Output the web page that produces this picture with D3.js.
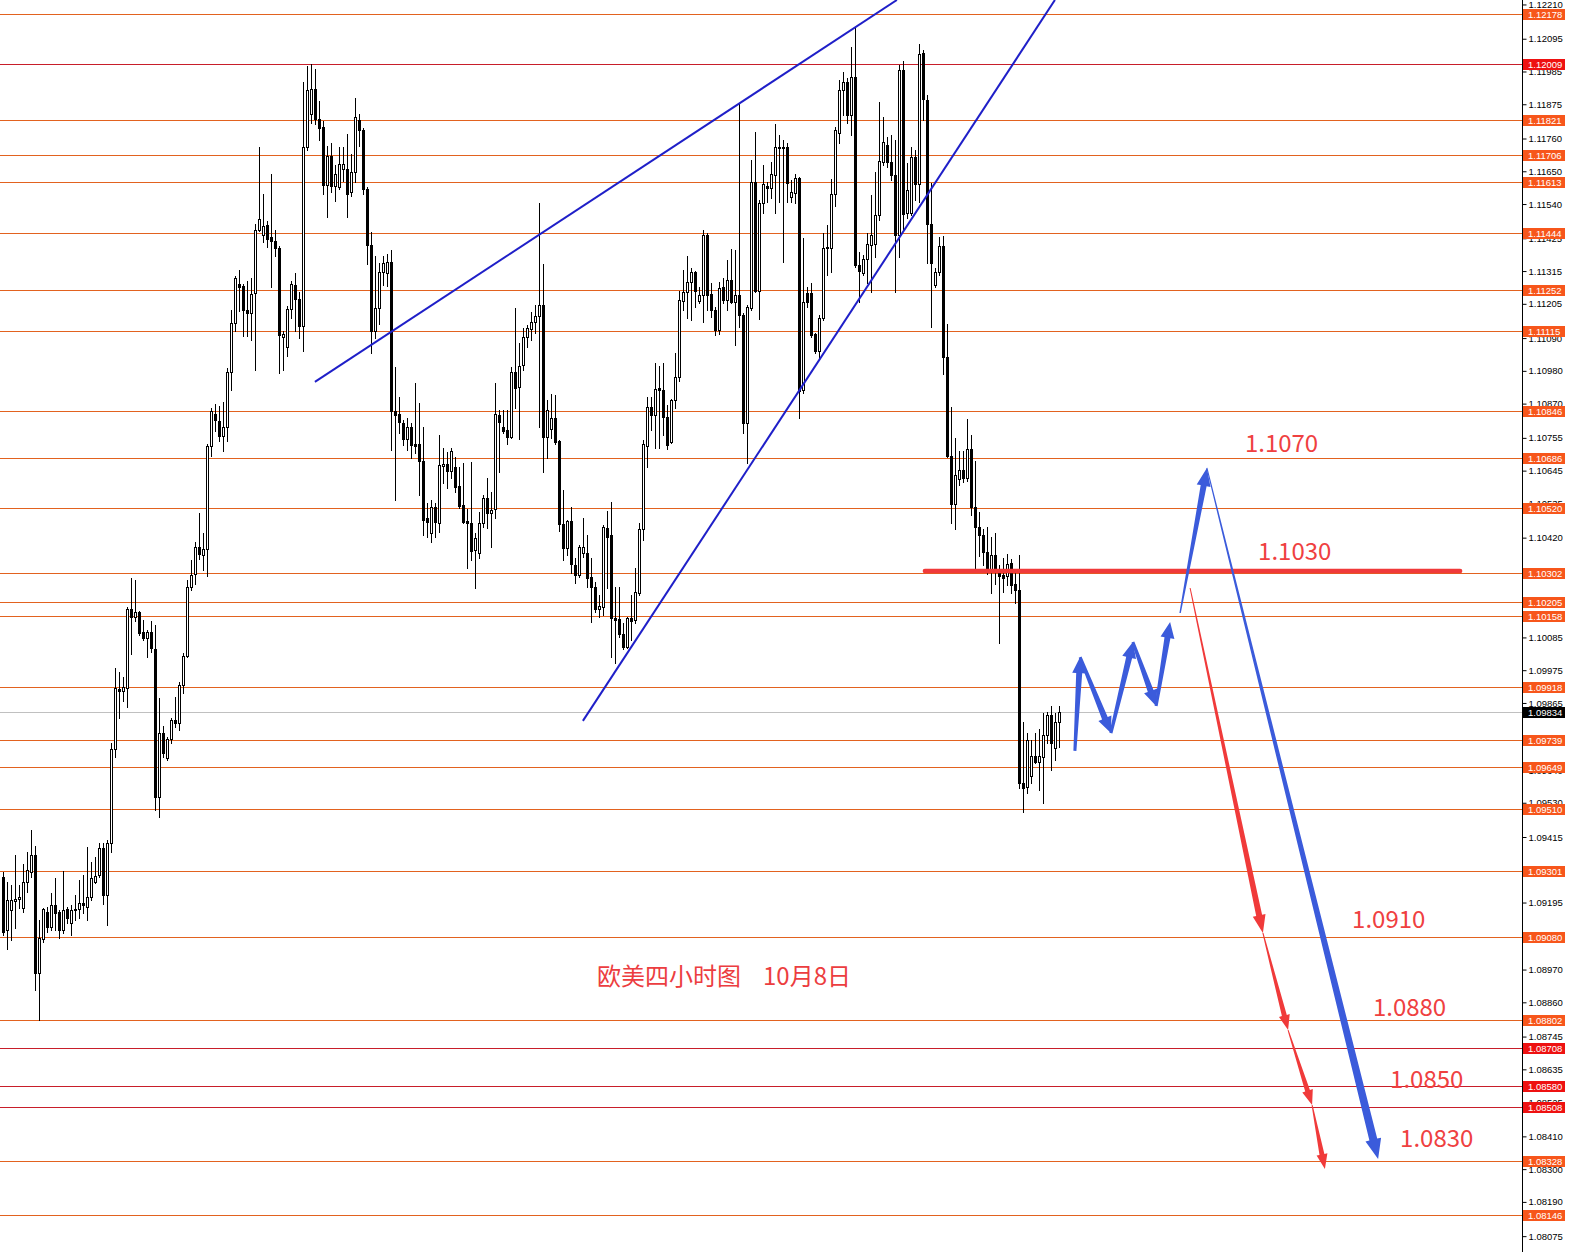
<!DOCTYPE html>
<html><head><meta charset="utf-8">
<script src="https://cdn.jsdelivr.net/npm/d3@7"></script>
<style>
html,body{margin:0;padding:0;background:#fff;}
svg{display:block;}
</style></head>
<body>
<svg id="chart" width="1570" height="1252"></svg>
<script>
// ---------- DATA ----------
// 4H EURUSD candles: [open, high, low, close]
const ohlc = [
[1.09280,1.09297,1.09086,1.09097],[1.09103,1.09264,1.09039,1.09203],[1.09170,1.09254,1.09070,1.09203],[1.09200,1.09354,1.09110,1.09207],
[1.09207,1.09254,1.09177,1.09213],[1.09177,1.09324,1.09164,1.09264],[1.09264,1.09364,1.09230,1.09304],[1.09297,1.09438,1.09280,1.09354],
[1.09354,1.09385,1.08902,1.08958],[1.08958,1.09136,1.08800,1.09076],[1.09072,1.09177,1.09062,1.09173],[1.09164,1.09180,1.09097,1.09112],
[1.09112,1.09227,1.09103,1.09187],[1.09187,1.09277,1.09103,1.09160],[1.09164,1.09170,1.09076,1.09103],[1.09103,1.09301,1.09093,1.09170],
[1.09173,1.09180,1.09127,1.09144],[1.09127,1.09187,1.09086,1.09170],[1.09170,1.09220,1.09136,1.09173],[1.09173,1.09270,1.09144,1.09193],
[1.09193,1.09287,1.09160,1.09187],[1.09180,1.09381,1.09136,1.09213],[1.09213,1.09331,1.09203,1.09277],[1.09264,1.09348,1.09260,1.09284],
[1.09287,1.09395,1.09280,1.09378],[1.09378,1.09395,1.09190,1.09220],[1.09220,1.09405,1.09119,1.09395],[1.09395,1.09731,1.09364,1.09710],
[1.09710,1.09983,1.09684,1.09916],[1.09912,1.09969,1.09815,1.09905],[1.09905,1.09952,1.09872,1.09919],[1.09916,1.10187,1.09851,1.10181],
[1.10181,1.10284,1.10030,1.10154],[1.10154,1.10277,1.10140,1.10171],[1.10171,1.10174,1.10093,1.10100],[1.10104,1.10144,1.10077,1.10083],
[1.10083,1.10110,1.10020,1.10104],[1.10104,1.10140,1.10036,1.10050],[1.10046,1.10127,1.09505,1.09549],[1.09549,1.09882,1.09482,1.09764],
[1.09764,1.09788,1.09684,1.09697],[1.09680,1.09751,1.09674,1.09744],[1.09744,1.09815,1.09731,1.09808],[1.09808,1.09885,1.09784,1.09798],
[1.09798,1.09936,1.09774,1.09926],[1.09926,1.10033,1.09899,1.10023],[1.10023,1.10277,1.10020,1.10254],[1.10254,1.10345,1.10244,1.10294],
[1.10298,1.10405,1.10264,1.10388],[1.10388,1.10502,1.10348,1.10365],[1.10361,1.10435,1.10311,1.10381],[1.10381,1.10734,1.10291,1.10728],
[1.10728,1.10855,1.10694,1.10845],[1.10835,1.10869,1.10778,1.10815],[1.10811,1.10862,1.10744,1.10761],[1.10761,1.10875,1.10711,1.10791],
[1.10791,1.10990,1.10744,1.10976],[1.10976,1.11184,1.10916,1.11141],[1.11141,1.11299,1.11114,1.11292],[1.11272,1.11319,1.11181,1.11262],
[1.11265,1.11272,1.11097,1.11184],[1.11184,1.11282,1.11097,1.11174],[1.11174,1.11292,1.11084,1.11238],[1.11242,1.11473,1.10983,1.11453],
[1.11453,1.11731,1.11450,1.11490],[1.11436,1.11573,1.11413,1.11467],[1.11470,1.11483,1.11396,1.11423],[1.11430,1.11641,1.11262,1.11416],
[1.11416,1.11453,1.11366,1.11393],[1.11393,1.11400,1.10973,1.11100],[1.11094,1.11114,1.10983,1.11104],[1.11060,1.11198,1.11030,1.11188],
[1.11188,1.11282,1.11158,1.11272],[1.11269,1.11309,1.11114,1.11222],[1.11222,1.11245,1.11090,1.11131],[1.11131,1.11950,1.11047,1.11731],
[1.11731,1.12003,1.11721,1.11923],[1.11842,1.12010,1.11812,1.11926],[1.11926,1.11993,1.11808,1.11825],[1.11825,1.11886,1.11755,1.11795],
[1.11798,1.11818,1.11573,1.11604],[1.11604,1.11735,1.11497,1.11701],[1.11701,1.11745,1.11580,1.11600],[1.11600,1.11671,1.11550,1.11641],
[1.11597,1.11731,1.11590,1.11674],[1.11657,1.11731,1.11617,1.11674],[1.11657,1.11775,1.11497,1.11573],[1.11580,1.11708,1.11567,1.11647],
[1.11647,1.11896,1.11614,1.11832],[1.11822,1.11842,1.11735,1.11788],[1.11788,1.11795,1.11573,1.11590],[1.11590,1.11597,1.11339,1.11403],
[1.11403,1.11447,1.11040,1.11114],[1.11114,1.11366,1.11090,1.11191],[1.11191,1.11342,1.11137,1.11312],[1.11312,1.11366,1.11269,1.11342],
[1.11309,1.11373,1.11265,1.11346],[1.11346,1.11386,1.10714,1.10845],[1.10845,1.10993,1.10546,1.10832],[1.10835,1.10892,1.10771,1.10808],
[1.10805,1.10815,1.10731,1.10751],[1.10751,1.10822,1.10714,1.10791],[1.10791,1.10805,1.10687,1.10731],[1.10734,1.10939,1.10704,1.10728],
[1.10734,1.10872,1.10563,1.10677],[1.10677,1.10791,1.10428,1.10479],[1.10486,1.10536,1.10422,1.10472],[1.10435,1.10546,1.10405,1.10522],
[1.10522,1.10536,1.10422,1.10472],[1.10469,1.10764,1.10439,1.10664],[1.10660,1.10721,1.10603,1.10667],[1.10667,1.10707,1.10587,1.10644],
[1.10644,1.10721,1.10620,1.10711],[1.10657,1.10691,1.10573,1.10590],[1.10593,1.10657,1.10519,1.10526],[1.10529,1.10670,1.10469,1.10472],
[1.10475,1.10516,1.10318,1.10469],[1.10469,1.10674,1.10345,1.10375],[1.10378,1.10435,1.10251,1.10418],[1.10368,1.10506,1.10351,1.10469],
[1.10469,1.10563,1.10455,1.10553],[1.10553,1.10620,1.10452,1.10502],[1.10502,1.10573,1.10388,1.10512],[1.10516,1.10939,1.10486,1.10835],
[1.10832,1.10848,1.10640,1.10808],[1.10791,1.10848,1.10771,1.10778],[1.10781,1.10848,1.10734,1.10758],[1.10758,1.10993,1.10754,1.10976],
[1.10976,1.11191,1.10855,1.10923],[1.10926,1.11074,1.10751,1.10996],[1.11000,1.11124,1.10983,1.11094],[1.11094,1.11134,1.11060,1.11124],
[1.11121,1.11178,1.11084,1.11144],[1.11144,1.11201,1.11107,1.11164],[1.11164,1.11544,1.10791,1.11201],[1.11201,1.11339,1.10640,1.10758],
[1.10758,1.10882,1.10687,1.10848],[1.10785,1.10902,1.10754,1.10822],[1.10822,1.10899,1.10734,1.10741],[1.10744,1.10748,1.10442,1.10465],
[1.10465,1.10580,1.10345,1.10385],[1.10385,1.10479,1.10361,1.10475],[1.10475,1.10522,1.10301,1.10331],[1.10328,1.10351,1.10267,1.10294],
[1.10294,1.10395,1.10287,1.10388],[1.10368,1.10486,1.10355,1.10388],[1.10368,1.10428,1.10254,1.10284],[1.10287,1.10351,1.10137,1.10254],
[1.10254,1.10271,1.10171,1.10181],[1.10181,1.10227,1.10154,1.10191],[1.10187,1.10462,1.10161,1.10455],[1.10452,1.10509,1.10251,1.10422],
[1.10428,1.10539,1.10020,1.10151],[1.10151,1.10254,1.09999,1.10144],[1.10147,1.10254,1.10087,1.10097],[1.10097,1.10134,1.10046,1.10053],
[1.10053,1.10154,1.10050,1.10151],[1.10151,1.10227,1.10077,1.10140],[1.10144,1.10318,1.10134,1.10237],[1.10234,1.10469,1.10227,1.10449],
[1.10449,1.10748,1.10412,1.10734],[1.10728,1.10892,1.10657,1.10858],[1.10858,1.10892,1.10781,1.10832],[1.10832,1.11006,1.10721,1.10919],
[1.10923,1.10996,1.10721,1.10916],[1.10916,1.11006,1.10764,1.10825],[1.10825,1.10865,1.10717,1.10731],[1.10741,1.10885,1.10738,1.10882],
[1.10882,1.11040,1.10855,1.10959],[1.10959,1.11248,1.10946,1.11218],[1.11215,1.11319,1.11184,1.11245],[1.11245,1.11366,1.11158,1.11279],
[1.11279,1.11326,1.11151,1.11312],[1.11312,1.11316,1.11194,1.11248],[1.11215,1.11262,1.11208,1.11235],[1.11235,1.11453,1.11144,1.11436],
[1.11436,1.11443,1.11184,1.11235],[1.11238,1.11275,1.11161,1.11184],[1.11184,1.11194,1.11100,1.11117],[1.11117,1.11279,1.11104,1.11259],
[1.11262,1.11292,1.11208,1.11218],[1.11218,1.11353,1.11184,1.11285],[1.11285,1.11389,1.11208,1.11211],[1.11211,1.11386,1.11067,1.11235],
[1.11235,1.11879,1.11127,1.11168],[1.11168,1.11175,1.10771,1.10805],[1.10805,1.11201,1.10670,1.11194],[1.11191,1.11688,1.11184,1.11614],
[1.11614,1.11782,1.11245,1.11248],[1.11248,1.11554,1.11154,1.11544],[1.11544,1.11671,1.11510,1.11607],[1.11600,1.11614,1.11547,1.11594],
[1.11594,1.11681,1.11560,1.11641],[1.11637,1.11808,1.11510,1.11731],[1.11728,1.11771,1.11547,1.11731],[1.11731,1.11755,1.11346,1.11728],
[1.11731,1.11745,1.11547,1.11610],[1.11563,1.11620,1.11547,1.11580],[1.11577,1.11641,1.11544,1.11627],[1.11627,1.11630,1.10822,1.10912],
[1.10916,1.11426,1.10906,1.11211],[1.11242,1.11262,1.11194,1.11211],[1.11242,1.11275,1.11094,1.11100],[1.11104,1.11107,1.11040,1.11047],
[1.11047,1.11168,1.11023,1.11158],[1.11158,1.11443,1.11151,1.11393],[1.11393,1.11470,1.11302,1.11396],[1.11393,1.11624,1.11312,1.11573],
[1.11573,1.11798,1.11533,1.11788],[1.11778,1.11956,1.11745,1.11923],[1.11923,1.11983,1.11839,1.11950],[1.11950,1.11963,1.11812,1.11839],
[1.11839,1.12067,1.11771,1.11966],[1.11966,1.12131,1.11329,1.11336],[1.11336,1.11379,1.11211,1.11316],[1.11309,1.11369,1.11302,1.11356],
[1.11356,1.11443,1.11275,1.11406],[1.11403,1.11570,1.11245,1.11436],[1.11406,1.11647,1.11363,1.11504],[1.11504,1.11882,1.11487,1.11684],
[1.11681,1.11832,1.11671,1.11748],[1.11738,1.11765,1.11664,1.11681],[1.11681,1.11771,1.11620,1.11637],[1.11637,1.11755,1.11245,1.11436],
[1.11436,1.12007,1.11363,1.11990],[1.11990,1.12020,1.11457,1.11507],[1.11510,1.11677,1.11494,1.11587],[1.11510,1.11731,1.11504,1.11698],
[1.11698,1.11721,1.11554,1.11607],[1.11607,1.12077,1.11547,1.12044],[1.12047,1.12057,1.11822,1.11893],[1.11889,1.11906,1.11342,1.11473],
[1.11473,1.11610,1.11127,1.11342],[1.11269,1.11326,1.11262,1.11312],[1.11312,1.11430,1.11302,1.11400],[1.11400,1.11433,1.10970,1.11027],
[1.11027,1.11137,1.10691,1.10694],[1.10694,1.10858,1.10469,1.10533],[1.10533,1.10754,1.10449,1.10630],[1.10617,1.10711,1.10597,1.10647],
[1.10647,1.10711,1.10607,1.10620],[1.10620,1.10818,1.10610,1.10717],[1.10717,1.10764,1.10496,1.10522],[1.10522,1.10677,1.10311,1.10455],
[1.10455,1.10506,1.10358,1.10428],[1.10428,1.10449,1.10328,1.10371],[1.10371,1.10455,1.10298,1.10314],[1.10314,1.10422,1.10234,1.10361],
[1.10361,1.10435,1.10264,1.10308],[1.10301,1.10328,1.10067,1.10291],[1.10294,1.10351,1.10237,1.10284],[1.10291,1.10365,1.10261,1.10331],
[1.10334,1.10348,1.10234,1.10261],[1.10264,1.10304,1.10201,1.10244],[1.10244,1.10361,1.09580,1.09596],[1.09596,1.09801,1.09499,1.09580],
[1.09583,1.09764,1.09563,1.09741],[1.09620,1.09741,1.09596,1.09687],[1.09687,1.09764,1.09663,1.09667],[1.09667,1.09778,1.09573,1.09687],
[1.09684,1.09831,1.09529,1.09757],[1.09757,1.09835,1.09731,1.09825],[1.09825,1.09855,1.09640,1.09731],[1.09714,1.09831,1.09674,1.09801],
[1.09801,1.09855,1.09717,1.09834]
];

// horizontal price levels
const levels = [1.12178,1.12009,1.11821,1.11706,1.11613,1.11444,1.11252,1.11115,1.10846,1.10686,1.10520,1.10302,1.10205,
  1.10158,1.09918,1.09739,1.09649,1.09510,1.09301,1.09080,1.08802,1.08708,1.08580,1.08508,1.08328,1.08146];
const redLevels = [1.12009,1.08708,1.08580,1.08508];
const currentPrice = 1.09834;

// right price axis tick labels
const tickLabels = ["1.12210","1.12095","1.11985","1.11875","1.11760","1.11650","1.11540","1.11425","1.11315","1.11205",
  "1.11090","1.10980","1.10870","1.10755","1.10645","1.10535","1.10420","1.10310","1.10200","1.10085","1.09975","1.09865",
  "1.09750","1.09640","1.09530","1.09415","1.09305","1.09195","1.09080","1.08970","1.08860","1.08745","1.08635","1.08525",
  "1.08410","1.08300","1.08190","1.08075"];

// trend lines: [bar index, price]
const wedgeUpper = [[77.9,1.10943],[223.4,1.12225]];
const wedgeLower = [[144.9,1.09805],[262.9,1.12225]];

// forecast drawings: [bar index, price]
const zigzagPath = [[267.9,1.09704],[269.2,1.10019],[276.9,1.09764],[282.4,1.10070],[288.2,1.09855],[291.7,1.10137]];
const blueForecast = [[294.2,1.10167],[300.9,1.10654],[343.7,1.08334]];
const redForecast = [[296.7,1.10251],[314.9,1.09093],[321.2,1.08767],[327.2,1.08515],[330.4,1.08300]];
const keyLevel = {from:230.4, to:364.2, price:1.10308};

// target labels and their anchors [bar index, price]
const targetText = ["1.1070","1.1030","1.0910","1.0880","1.0850","1.0830"];
const targetAnchor = [[310.4,1.10708],[313.7,1.10345],[337.2,1.09110],[342.4,1.08814],[346.7,1.08572],[349.2,1.08374]];

const titleText = ["欧美四小时图","10月8日"];

// ---------- DRAW ----------
const W = 1570, H = 1252, axisX = 1522;
const svg = d3.select("#chart");
const x = d3.scaleLinear().domain([0, 1]).range([3.3, 7.3]);
const y = d3.scaleLinear().domain([1.08146, 1.12178]).range([1215, 14]);
const fmt = d3.format(".5f");
const snap = v => Math.round(v) + 0.5;
const P = d => [x(d[0]), y(d[1])];

svg.append("rect").attr("width", W).attr("height", H).attr("fill", "#fff");
svg.append("defs").append("clipPath").attr("id","clip").append("rect").attr("width",axisX).attr("height",H);

// level lines
svg.append("g").selectAll("line").data(levels).join("line")
  .attr("x1",0).attr("x2",axisX)
  .attr("y1",d=>snap(y(d))).attr("y2",d=>snap(y(d)))
  .attr("stroke",d=>redLevels.includes(d) ? "#c81e2a" : "#e2621f")
  .attr("stroke-width",1);
svg.append("line").attr("x1",0).attr("x2",axisX)
  .attr("y1",snap(y(currentPrice))).attr("y2",snap(y(currentPrice)))
  .attr("stroke","#c0c0c0").attr("stroke-width",1);

// candles
const gC = svg.append("g").attr("clip-path","url(#clip)").attr("shape-rendering","crispEdges");
const cg = gC.selectAll("g.c").data(ohlc).join("g").attr("class","c");
cg.append("line")
  .attr("x1",(d,i)=>Math.round(x(i))+0.5).attr("x2",(d,i)=>Math.round(x(i))+0.5)
  .attr("y1",d=>Math.round(y(d[1]))).attr("y2",d=>Math.round(y(d[2]))+1)
  .attr("stroke","#000").attr("stroke-width",1);
cg.append("rect")
  .attr("x",(d,i)=>Math.round(x(i))-0.5)
  .attr("width",2)
  .attr("y",d=>Math.round(y(Math.max(d[0],d[3])))+0.5)
  .attr("height",d=>Math.max(1, Math.round(y(Math.min(d[0],d[3]))) - Math.round(y(Math.max(d[0],d[3])))))
  .attr("fill",d=>d[3]>=d[0] ? "#fff" : "#000")
  .attr("stroke","#000").attr("stroke-width",1);

// wedge trend lines
const line = d3.line().x(d=>x(d[0])).y(d=>y(d[1]));
svg.append("g").attr("clip-path","url(#clip)").selectAll("path").data([wedgeUpper, wedgeLower]).join("path")
  .attr("d",line).attr("fill","none").attr("stroke","#1f1fc8").attr("stroke-width",2);

// key level bar
svg.append("line")
  .attr("x1",x(keyLevel.from)).attr("x2",x(keyLevel.to))
  .attr("y1",y(keyLevel.price)).attr("y2",y(keyLevel.price))
  .attr("stroke","#f03a3a").attr("stroke-width",4.5).attr("stroke-linecap","round");

// tapered arrows
function arrow(p0, p1, w0, w1, hl, hw){
  const dx=p1[0]-p0[0], dy=p1[1]-p0[1], L=Math.hypot(dx,dy);
  const ux=dx/L, uy=dy/L, nx=-uy, ny=ux;
  const bx=p1[0]-ux*hl, by=p1[1]-uy*hl;
  const pts=[
    [p0[0]+nx*w0/2, p0[1]+ny*w0/2],[bx+nx*w1/2, by+ny*w1/2],[bx+nx*hw/2, by+ny*hw/2],p1,
    [bx-nx*hw/2, by-ny*hw/2],[bx-nx*w1/2, by-ny*w1/2],[p0[0]-nx*w0/2, p0[1]-ny*w0/2]];
  return "M"+pts.map(p=>p[0].toFixed(1)+","+p[1].toFixed(1)).join("L")+"Z";
}
const gA = svg.append("g");
const zz = zigzagPath.map(P);
for(let i=0;i<zz.length-1;i++){
  gA.append("path").attr("d",arrow(zz[i],zz[i+1],3,6,16,14)).attr("fill","#3b5bdb");
}
const bf = blueForecast.map(P);
gA.append("path").attr("d",arrow(bf[0],bf[1],1.5,6,18,14)).attr("fill","#3b5bdb");
gA.append("path").attr("d",arrow(bf[1],bf[2],1,8,20,16)).attr("fill","#3b5bdb");
const rf = redForecast.map(P);
const redSpec = [[1,6,18,13],[1,5,15,11],[1,5,15,11],[1,5,15,11]];
for(let i=0;i<rf.length-1;i++){
  const s=redSpec[i];
  gA.append("path").attr("d",arrow(rf[i],rf[i+1],s[0],s[1],s[2],s[3])).attr("fill","#f03a3a");
}

// target labels
svg.append("g").selectAll("text").data(targetText).join("text")
  .attr("x",(d,i)=>x(targetAnchor[i][0])).attr("y",(d,i)=>y(targetAnchor[i][1]))
  .attr("font-family","'Noto Sans CJK SC','Noto Sans',sans-serif").attr("font-size",24)
  .attr("fill","#ef4040").text(d=>d);

// title
const gt = svg.append("g").attr("font-family","'Noto Sans CJK SC',sans-serif").attr("font-size",24).attr("fill","#ec3d40");
gt.append("text").attr("x",597).attr("y",985).text(titleText[0]);
gt.append("text").attr("x",763).attr("y",985).text(titleText[1]);

// right price axis
const axis = d3.axisRight(y).tickValues(tickLabels.map(Number)).tickFormat(fmt).tickSize(4).tickPadding(2);
const gAx = svg.append("g").attr("transform",`translate(${axisX+0.5},0)`).call(axis);
gAx.select(".domain").remove();
gAx.selectAll("text").attr("font-family","'Liberation Sans',Arial,sans-serif").attr("font-size",9.5).attr("fill","#000");
gAx.selectAll("line").attr("stroke","#000");
svg.append("line").attr("x1",axisX+0.5).attr("x2",axisX+0.5).attr("y1",0).attr("y2",H).attr("stroke","#000");

// level tags on the axis
const tags = levels.map(p=>({p, bg: redLevels.includes(p) ? "#ee1111" : "#f7561b"}))
  .concat([{p: currentPrice, bg: "#000"}]);
const gT = svg.append("g").selectAll("g").data(tags).join("g")
  .attr("transform",d=>`translate(${axisX+1},${Math.round(y(d.p))})`);
gT.append("rect").attr("x",0).attr("y",-5).attr("width",42).attr("height",11).attr("fill",d=>d.bg);
gT.append("text").attr("x",5).attr("y",0.5).attr("dy","0.35em")
  .attr("font-family","'Liberation Sans',Arial,sans-serif").attr("font-size",9.5).attr("fill","#fff")
  .text(d=>fmt(d.p));
</script>
</body></html>
